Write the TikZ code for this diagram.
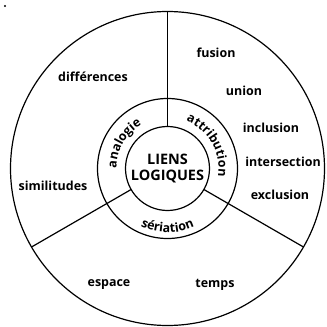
\documentclass[tikz,border=0pt]{standalone}
\usepackage{fontspec}
\setmainfont{Open Sans}
\usetikzlibrary{decorations.text}
\newcommand{\lblfont}{\bfseries\fontsize{12.5}{14}\selectfont}
\newcommand{\rngfont}{\bfseries\fontsize{12.5}{14}\selectfont}
\begin{document}
\begin{tikzpicture}[x=1bp,y=1bp,
  ring/.style={circle,draw,line width=1.2bp,inner sep=0pt,outer sep=0pt},
  lbl/.style={font=\lblfont,inner sep=0pt},
  divider/.style={line width=1.2bp},
  ringtext/.style={decorate,decoration={text along path,text align=center,
    text format delimiters={|}{|}}}]
\useasboundingbox (0,0) rectangle (327,327);
\coordinate (c) at (167.5,158.5);
\node[ring,minimum size=314bp] (outer) at (c) {};
\node[ring,minimum size=140bp] (middle) at (c) {};
\node[ring,minimum size=84bp] (inner) at (c) {};
\node[align=center,font=\bfseries\fontsize{14.5}{15.5}\selectfont,inner sep=0pt] (title) at (c) {LIENS\\LOGIQUES};
\draw[divider] (inner.90) -- (outer.90);
\draw[divider] (inner.210) -- (outer.210);
\draw[divider] (inner.330) -- (outer.330);
\fill (5,321) circle[radius=1.2bp];
\path[ringtext,decoration={text={|\rngfont|analogie}}]
  (c) ++(210:51) arc[start angle=210,end angle=90,radius=51];
\path[ringtext,decoration={text={|\rngfont|attribution}}]
  (c) ++(90:51) arc[start angle=90,end angle=-30,radius=51];
\path[ringtext,decoration={text={|\rngfont|sériation}}]
  (c) ++(210:64) arc[start angle=210,end angle=330,radius=64];
\node[lbl] (differences) at (93,250) {différences};
\node[lbl] (fusion) at (216,274) {fusion};
\node[lbl] (union) at (244,236) {union};
\node[lbl] (inclusion) at (271,199) {inclusion};
\node[lbl] (intersection) at (283,165) {intersection};
\node[lbl] (exclusion) at (280,132) {exclusion};
\node[lbl] (similitudes) at (53,141) {similitudes};
\node[lbl] (espace) at (109,42) {espace};
\node[lbl] (temps) at (215,42) {temps};
\end{tikzpicture}
\end{document}
